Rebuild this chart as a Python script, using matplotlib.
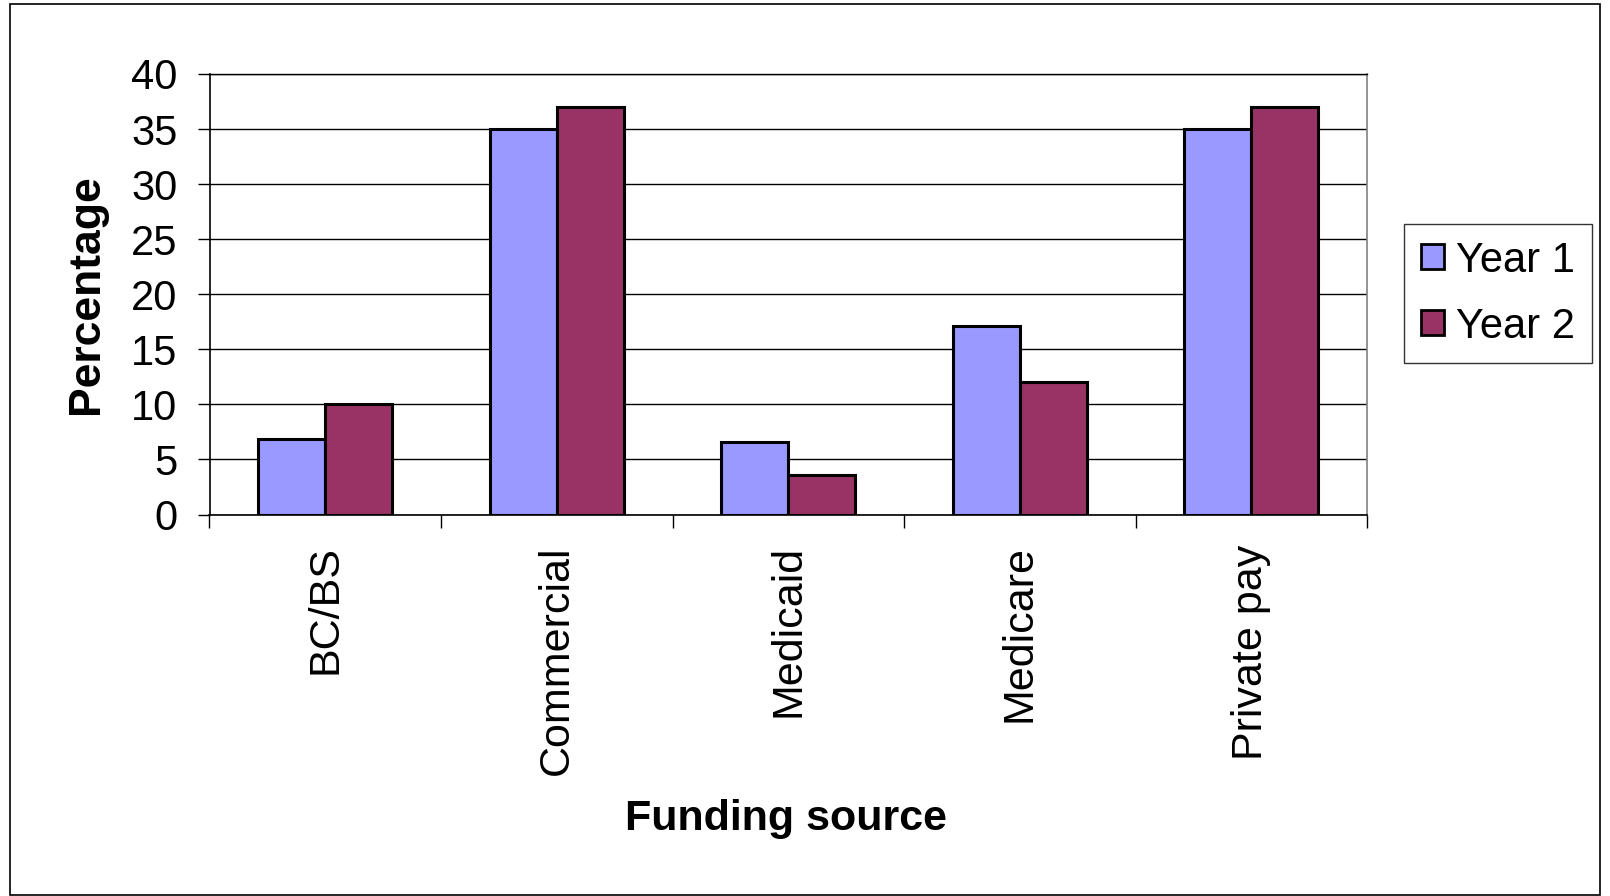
import numpy as np
import matplotlib
matplotlib.use("Agg")
import matplotlib.pyplot as plt
from matplotlib.patches import Rectangle

# datos
categories = ["BC/BS", "Commercial", "Medicaid", "Medicare", "Private pay"]
year1 = [6.9, 35, 6.6, 17.1, 35]
year2 = [10, 37, 3.6, 12, 37]
series_names = ["Year 1", "Year 2"]
yticks = [0, 5, 10, 15, 20, 25, 30, 35, 40]

plt.rcParams['font.family'] = ['Liberation Sans', 'DejaVu Sans']

W, H = 1610, 896
fig = plt.figure(figsize=(W / 100, H / 100), dpi=100)
ax = fig.add_axes([209.5 / W, 1 - 514.5 / H, (1367 - 209.5) / W, (514.5 - 74) / H])

x = np.arange(len(categories))
bw = 0.29
ax.bar(x - bw / 2, year1, bw, color='#9999FF', edgecolor='black', linewidth=2.2,
       label=series_names[0], zorder=3)
ax.bar(x + bw / 2, year2, bw, color='#993366', edgecolor='black', linewidth=2.2,
       label=series_names[1], zorder=3)

ax.set_xlim(-0.5, len(categories) - 0.5)
ax.set_ylim(0, 40)
ax.set_yticks(yticks)
ax.set_yticklabels([str(t) for t in yticks], fontsize=30)
ax.yaxis.grid(True, color='black', linewidth=1.0, zorder=0)
ax.set_axisbelow(True)

# ticks del eje x en los bordes de cada categoria, etiquetas en el centro
ax.set_xticks(np.arange(len(categories) + 1) - 0.5)
ax.set_xticklabels([])
ax.set_xticks(x, minor=True)
ax.set_xticklabels(categories, minor=True, rotation=90, fontsize=31)
ax.tick_params(axis='x', which='minor', length=0, pad=22)
ax.tick_params(axis='x', which='major', length=9, width=1, direction='out', color='black')
ax.tick_params(axis='y', length=9, width=1, direction='out', pad=14)

for s in ['left', 'bottom']:
    ax.spines[s].set_color('black')
    ax.spines[s].set_linewidth(1.2)
ax.spines['top'].set_color('black')
ax.spines['top'].set_linewidth(1.0)
ax.spines['right'].set_color('#808080')
ax.spines['right'].set_linewidth(1.2)

ax.set_ylabel("Percentage", fontsize=32, fontweight='bold', labelpad=17)
fig.text(765 * 1.027 / W, 1 - 797 * 1.027 / H, "Funding source", fontsize=31,
         fontweight='bold', ha='center', va='center')

leg = ax.legend(loc='upper left', bbox_to_anchor=(1404 / W, 1 - 224 / H),
                bbox_transform=fig.transFigure, borderaxespad=0, fontsize=30,
                frameon=True, fancybox=False, edgecolor='black',
                handlelength=0.55, handleheight=0.55, handletextpad=0.3,
                labelspacing=0.62, borderpad=0.4)
leg.get_frame().set_linewidth(1.0)
for h in leg.legend_handles:
    h.set_linewidth(2)

fig.patches.append(Rectangle((10 / W, 1 / H), 1590 / W, 891 / H, transform=fig.transFigure,
                             fill=False, edgecolor='black', linewidth=1.2))

fig.savefig("out.png", dpi=100, facecolor='white')
